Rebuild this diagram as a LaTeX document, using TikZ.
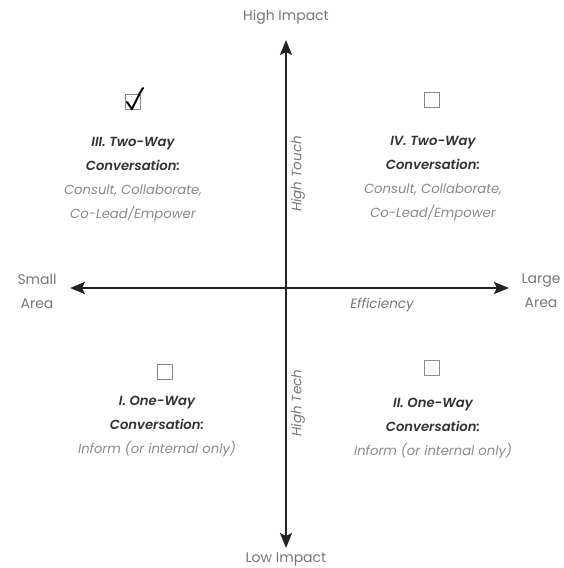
\documentclass[tikz,border=0pt]{standalone}
\usepackage{fontspec}
\setmainfont{Poppins}[BoldFont={Poppins SemiBold},BoldItalicFont={Poppins SemiBold Italic}]
\usetikzlibrary{arrows.meta}
\definecolor{axis}{HTML}{222222}
\definecolor{lbl}{HTML}{777777}
\definecolor{head}{HTML}{333333}
\definecolor{body}{HTML}{8A8A8A}
\definecolor{boxc}{HTML}{888888}
\tikzset{
  axisline/.style={line width=2.4pt, draw=axis, -{Stealth[length=15pt,width=12pt,inset=3pt]}},
  axislbl/.style={font=\fontsize{14}{16}\selectfont, text=lbl, align=center},
  axisit/.style={font=\fontsize{13.5}{16}\selectfont\itshape, text=lbl, align=center},
  quad/.style={align=center, font=\fontsize{13.2}{24}\selectfont\itshape, text=body},
  cbox/.style={draw=boxc, line width=1.3pt, minimum size=15pt, inner sep=0pt},
}
\begin{document}
\begin{tikzpicture}[x=1pt,y=-1pt]
\useasboundingbox (0,0) rectangle (563,568);
\coordinate (c) at (286,288);
\coordinate (top) at (286,40);
\coordinate (bot) at (286,548);
\coordinate (lft) at (70,288);
\coordinate (rgt) at (509,288);
\draw[axisline] (c) -- (top);
\draw[axisline] (c) -- (bot);
\draw[axisline] (c) -- (lft);
\draw[axisline] (c) -- (rgt);

\node[axislbl] (hi) at (286,17) {High Impact};
\node[axislbl] (lo) at (286,559) {Low Impact};
\node[axislbl] (sm) at (37,291) {Small\\[8pt]Area};
\node[axislbl] (lg) at (541,291) {Large\\[8pt]Area};
\node[axisit] (eff) at (382,305) {Efficiency};
\node[axisit, rotate=90] (ht) at (298,174) {High Touch};
\node[axisit, rotate=90] (tech) at (298,403) {High Tech};

% checkboxes
\node[cbox] (b3) at (133,102) {};
\node[cbox] (b4) at (432,100) {};
\node[cbox] (b1) at (165,372) {};
\node[cbox] (b2) at (432,368) {};
\draw[line width=2pt, black, line cap=round, line join=round]
  ([xshift=-6pt,yshift=0pt]b3.center) -- ([xshift=-1pt,yshift=-7pt]b3.center)
  .. controls ([xshift=2pt,yshift=-1pt]b3.center) and ([xshift=6pt,yshift=8pt]b3.center) .. ([xshift=10pt,yshift=14pt]b3.center);

% quadrant texts
\node[quad, anchor=north] (q3) at (133,134) {\textcolor{head}{\bfseries III. Two-Way}\\\textcolor{head}{\bfseries Conversation:}\\Consult, Collaborate,\\Co-Lead/Empower};
\node[quad, anchor=north] (q4) at (433,133) {\textcolor{head}{\bfseries IV. Two-Way}\\\textcolor{head}{\bfseries Conversation:}\\Consult, Collaborate,\\Co-Lead/Empower};
\node[quad, anchor=north] (q1) at (157,393) {\textcolor{head}{\bfseries I. One-Way}\\\textcolor{head}{\bfseries Conversation:}\\Inform (or internal only)};
\node[quad, anchor=north] (q2) at (433,395) {\textcolor{head}{\bfseries II. One-Way}\\\textcolor{head}{\bfseries Conversation:}\\Inform (or internal only)};
\end{tikzpicture}
\end{document}
